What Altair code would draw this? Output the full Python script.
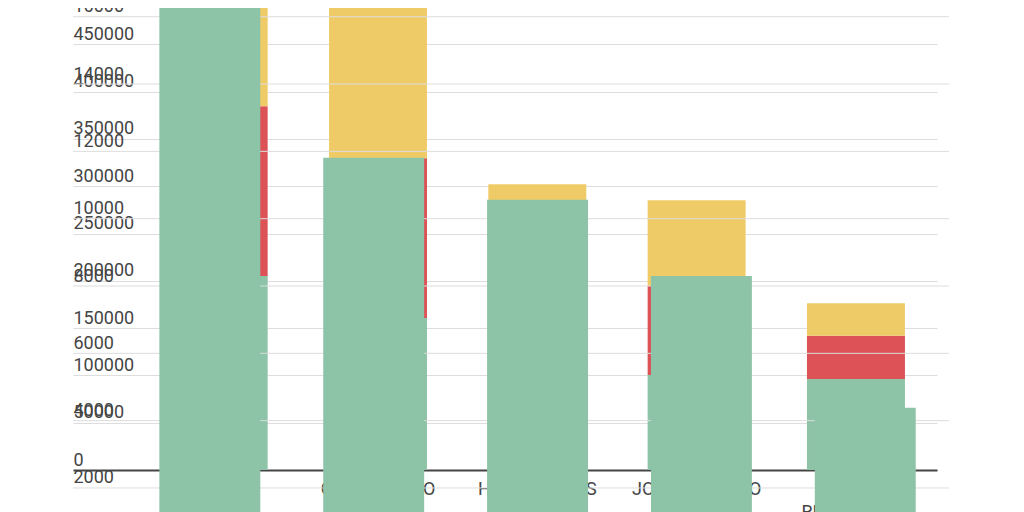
import altair as alt
import pandas as pd

# ---- data ----
categories = ["SANTO\nDOMINGO", "CHIMBORAZO", "HONDUREÑOS", "JOCOTENANGO", "NUEVO\nRETALHULEU"]
series_names = ["Serie 1", "Serie 2", "Serie 3"]          # green (bottom), red, yellow (top)
series_colors = ["#8DC3A7", "#DC5256", "#EFCB68"]

green_a = [205000, 160600, 190000, 100300, 96100]
red_a = [179500, 169000, 60000, 94100, 45800]
yellow_a = [140000, 190000, 52100, 90800, 34500]

values_b = [17300, 11810, 10560, 8300, 4380]

ticks_a = [0, 50000, 100000, 150000, 200000, 250000, 300000, 350000, 400000, 450000]
ticks_b = [0, 2000, 4000, 6000, 8000, 10000, 12000, 14000, 16000]

# ---- tables ----
rows = []
for i, c in enumerate(categories):
    for k, (s, vals) in enumerate(zip(series_names, [green_a, red_a, yellow_a])):
        rows.append({"category": c, "series": s, "value": vals[i], "order": k})
df_a = pd.DataFrame(rows)
df_b = pd.DataFrame({"category": categories, "value": values_b})
df_tb = pd.DataFrame({"tick": ticks_b})

FONT = "Roboto"
LABEL = "#444444"
GRID = "#dddddd"

W, H = 876, 462

# ---- chart A: stacked bars ----
x_a = alt.X(
    "category:N", sort=categories, title=None,
    scale=alt.Scale(range=[0, 864], paddingInner=0.385, paddingOuter=0.404, align=0.751),
    axis=alt.Axis(labelExpr="split(datum.label, '\\n')", labelAngle=0, labelFontSize=18,
                  labelColor=LABEL, labelFont=FONT, labelBaseline="top", labelPadding=10,
                  labelLineHeight=23, ticks=False, domain=True, domainColor=LABEL,
                  domainWidth=2, grid=False),
)
y_a = alt.Y(
    "value:Q", stack=True, title=None,
    scale=alt.Scale(domain=[0, 500000], range=[462, -11], nice=False, zero=True),
    axis=alt.Axis(values=ticks_a, orient="left", labelAlign="left", labelBaseline="alphabetic",
                  labelOffset=-5, labelPadding=0, labelFontSize=18, labelColor=LABEL,
                  labelFont=FONT, labelFlush=False, ticks=False, domain=False, grid=True,
                  gridColor=GRID, gridWidth=1, format="d"),
)
bars_a = alt.Chart(df_a).mark_bar().encode(
    x=x_a, y=y_a,
    color=alt.Color("series:N", scale=alt.Scale(domain=series_names, range=series_colors), legend=None),
    order=alt.Order("order:Q"),
)

# ---- chart B: single bars drawn on top ----
axis_b = alt.Axis(values=ticks_b, orient="left", labelAlign="left", labelBaseline="alphabetic",
                  labelOffset=-5, labelPadding=0, labelFontSize=18, labelColor=LABEL,
                  labelFont=FONT, labelFlush=False, ticks=False, domain=False, grid=False,
                  format="d")
scale_yb = alt.Scale(domain=[0, 18000], range=[547.3, -58.6], nice=False, zero=True)

grid_b = alt.Chart(df_tb).mark_rule(color=GRID, strokeWidth=1).encode(
    y=alt.Y("tick:Q", scale=scale_yb, axis=axis_b, title=None),
    x=alt.value(0), x2=alt.value(W),
)
bars_b = alt.Chart(df_b).mark_bar(color="#8DC3A7").encode(
    x=alt.X("category:N", sort=categories, title=None,
            scale=alt.Scale(range=[0, W], paddingInner=0.384, paddingOuter=0.365, align=0.722),
            axis=alt.Axis(labelExpr="split(datum.label, '\\n')", labelAngle=0, labelFontSize=18,
                          labelColor=LABEL, labelFont=FONT, labelBaseline="top",
                          labelPadding=10, labelLineHeight=23, ticks=False, domain=True,
                          domainColor=LABEL, domainWidth=2, grid=False, offset=85)),
    y=alt.Y("value:Q", scale=scale_yb, axis=axis_b, title=None),
)
layer_b = alt.layer(grid_b, bars_b)

chart = (
    alt.layer(bars_a, layer_b)
    .resolve_scale(x="independent", y="independent", color="independent")
    .properties(width=W, height=H,
                padding={"left": 65, "top": 0, "right": 20, "bottom": 100},
                autosize=alt.AutoSizeParams(type="none"))
    .configure(font=FONT, view=alt.ViewConfig(stroke=None))
)

chart.save("out.html", embed_options={"renderer": "svg", "actions": False})
